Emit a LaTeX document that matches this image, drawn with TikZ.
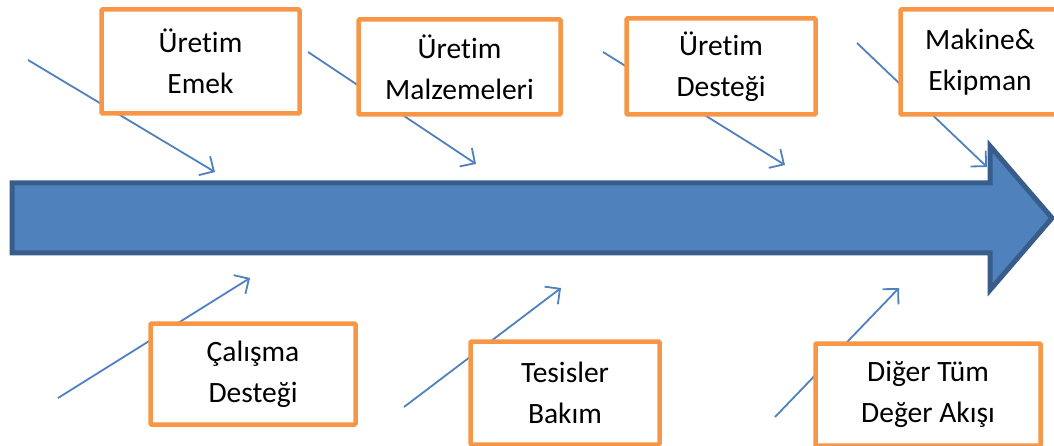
\documentclass[tikz,border=0pt]{standalone}
\usepackage{fontspec}
\setmainfont{Carlito}[Ligatures={NoCommon}]
\usetikzlibrary{arrows.meta}
\definecolor{boxorange}{HTML}{F79646}
\definecolor{flowblue}{HTML}{4F81BD}
\definecolor{flowedge}{HTML}{385D8A}
\tikzset{
  factor/.style={draw=boxorange, line width=4.5pt, fill=white, rounded corners=1pt,
    align=center, inner sep=0pt, font=\fontsize{29.5}{41}\selectfont},
  feeder/.style={draw=flowblue, line width=1.8pt,
    -{Straight Barb[length=11pt,width=22pt,line width=1.8pt]}},
  mainflow/.style={draw=flowedge, fill=flowblue, line width=5pt, line join=miter}
}
\begin{document}
\begin{tikzpicture}[x=1pt,y=-1pt]
\useasboundingbox (0,0) rectangle (1054,446);

% main value-stream arrow
\draw[mainflow] (12,183) -- (990,183) -- (990,146) -- (1052,218)
  -- (990,290) -- (990,253) -- (12,253) -- cycle;

% feeder arrow end points
\coordinate (a1s) at (28,60);   \coordinate (a1e) at (215,172);
\coordinate (a2s) at (308,52);  \coordinate (a2e) at (476,164);
\coordinate (a3s) at (603,52);  \coordinate (a3e) at (785,165);
\coordinate (a4s) at (857,43);  \coordinate (a4e) at (987,167);
\coordinate (b1s) at (58,398);  \coordinate (b1e) at (250,278);
\coordinate (b2s) at (404,407); \coordinate (b2e) at (561,288);
\coordinate (b3s) at (775,417); \coordinate (b3e) at (899,288);

\foreach \p in {a1,a2,a3,a4,b1,b2,b3}
  \draw[feeder] (\p s) -- (\p e);

% factor boxes
\node[factor, minimum width=198pt, minimum height=104pt] (emek) at (200.5,61.5) {Üretim\\Emek};
\node[factor, minimum width=202pt, minimum height=95pt] (malz) at (459.5,67) {Üretim\\Malzemeleri};
\node[factor, minimum width=189pt, minimum height=96pt] (destek) at (721,66.5) {Üretim\\Desteği};
\node[factor, minimum width=159pt, minimum height=105pt] (makine) at (980,62) {Makine\&\\Ekipman};
\node[factor, minimum width=205pt, minimum height=101pt] (calisma) at (253,374) {Çalışma\\Desteği};
\node[factor, minimum width=189pt, minimum height=103pt] (tesis) at (565,393) {Tesisler\\Bakım};
\node[factor, minimum width=225pt, minimum height=102pt] (diger) at (928,394.5) {Diğer Tüm\\Değer Akışı};
\end{tikzpicture}
\end{document}
